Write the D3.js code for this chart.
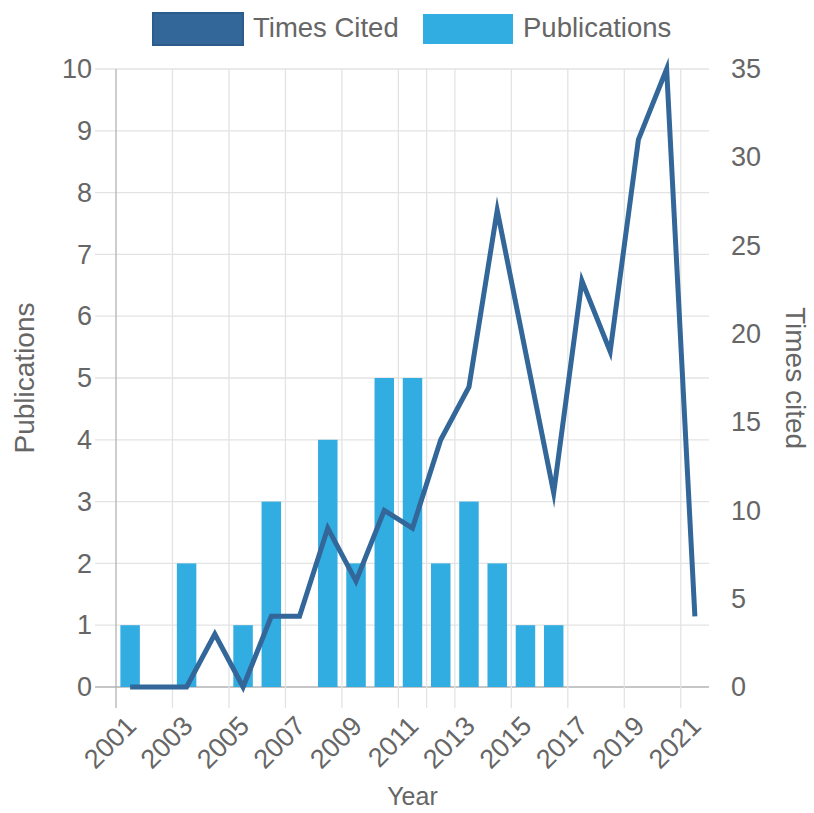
<!DOCTYPE html>
<html>
<head>
<meta charset="utf-8">
<script src="https://cdn.jsdelivr.net/npm/d3@7"></script>
<style>
  html, body { margin: 0; padding: 0; background: #fff; }
  svg { display: block; }
  text { font-family: "Liberation Sans", Arial, sans-serif; fill: #666; }
</style>
</head>
<body>
<div id="chart"></div>
<script>
const years = ["2001","2002","2003","2004","2005","2006","2007","2008","2009","2010","2011","2012","2013","2014","2015","2016","2017","2018","2019","2020","2021"];
const publications = [1,0,2,0,1,3,0,4,2,5,5,2,3,2,1,1,0,0,0,0,0];
const timesCited = [0,0,0,3,0,4,4,9,6,10,9,14,17,27,19,11,23,19,31,35,4];
const labelYears = ["2001","2003","2005","2007","2009","2011","2013","2015","2017","2019","2021"];
const gridYears = ["2001","2003","2005","2007","2009","2011","2012","2013","2015","2017","2019","2021"];
const leftTicks = [0,1,2,3,4,5,6,7,8,9,10];
const rightTicks = [0,5,10,15,20,25,30,35];
const seriesNames = ["Times Cited","Publications"];

const W = 814, H = 813;
const plot = {left: 116, right: 709, top: 69, bottom: 687};
const colLine = "#336699", colBar = "#32ade1";
const FONT = "Liberation Sans, Arial, sans-serif";

const svg = d3.select("#chart").append("svg").attr("width", W).attr("height", H);

const xCat = d3.scaleBand().domain(years).range([plot.left, plot.right]).padding(0);
const xBar = d3.scaleBand().domain(years).range([plot.left, plot.right]).paddingInner(0.31).paddingOuter(0.155);
const yL = d3.scaleLinear().domain([0, 10]).range([plot.bottom, plot.top]);
const yR = d3.scaleLinear().domain([0, 35]).range([plot.bottom, plot.top]);

// horizontal gridlines (left axis)
svg.append("g").selectAll("line").data(leftTicks).join("line")
  .attr("x1", plot.left - 21).attr("x2", plot.right)
  .attr("y1", d => yL(d)).attr("y2", d => yL(d))
  .attr("stroke", d => d === 0 ? "#b3b3b3" : "#e3e3e3").attr("stroke-width", 1.3);

// vertical gridlines at category edges
svg.append("g").selectAll("line").data(gridYears).join("line")
  .attr("x1", d => xCat(d)).attr("x2", d => xCat(d))
  .attr("y1", plot.top).attr("y2", plot.bottom + 21)
  .attr("stroke", (d, i) => i === 0 ? "#b3b3b3" : "#e3e3e3").attr("stroke-width", 1.3);

// bars
svg.append("g").selectAll("rect").data(years).join("rect")
  .attr("x", d => xBar(d)).attr("width", xBar.bandwidth())
  .attr("y", (d, i) => yL(publications[i]))
  .attr("height", (d, i) => yL(0) - yL(publications[i]))
  .attr("fill", colBar);

// line
const line = d3.line()
  .x((d, i) => xCat(years[i]) + xCat.bandwidth() / 2)
  .y(d => yR(d));
svg.append("path").datum(timesCited)
  .attr("d", line).attr("fill", "none")
  .attr("stroke", colLine).attr("stroke-width", 5).attr("stroke-linejoin", "miter").attr("stroke-miterlimit", 10);

// left axis labels
const gL = svg.append("g").attr("transform", `translate(${plot.left},0)`)
  .call(d3.axisLeft(yL).tickValues(leftTicks).tickSize(0).tickPadding(24).tickFormat(d3.format("d")));
gL.select(".domain").remove();
gL.selectAll("text").style("font-size", "27px").attr("fill", "#666").style("font-family", FONT);

// right axis labels
const gR = svg.append("g").attr("transform", `translate(${plot.right},0)`)
  .call(d3.axisRight(yR).tickValues(rightTicks).tickSize(0).tickPadding(22).tickFormat(d3.format("d")));
gR.select(".domain").remove();
gR.selectAll("text").style("font-size", "27px").attr("fill", "#666").style("font-family", FONT);

// bottom axis labels
const gB = svg.append("g").attr("transform", `translate(0,${plot.bottom})`)
  .call(d3.axisBottom(xCat).tickValues(labelYears).tickSize(0));
gB.select(".domain").remove();
gB.selectAll("text")
  .attr("x", 0).attr("y", 0).attr("dy", "0.35em")
  .attr("text-anchor", "end")
  .attr("transform", "translate(1,34) rotate(-45)")
  .style("font-size", "27px").attr("fill", "#666").style("font-family", FONT);

// axis titles
svg.append("text").attr("x", (plot.left + plot.right) / 2).attr("y", 805)
  .attr("text-anchor", "middle").style("font-size", "25px").text("Year");
svg.append("text").attr("transform", `translate(34,${(plot.top + plot.bottom) / 2}) rotate(-90)`)
  .attr("text-anchor", "middle").style("font-size", "28px").text("Publications");
svg.append("text").attr("transform", `translate(786,${(plot.top + plot.bottom) / 2}) rotate(90)`)
  .attr("text-anchor", "middle").style("font-size", "28px").text("Times cited");

// legend
const legend = svg.append("g");
legend.append("rect").attr("x", 153).attr("y", 13).attr("width", 90).attr("height", 32)
  .attr("fill", colLine).attr("stroke", "#2c5c8c").attr("stroke-width", 2);
legend.append("text").attr("x", 253).attr("y", 37).style("font-size", "27.5px").text(seriesNames[0]);
legend.append("rect").attr("x", 423).attr("y", 14).attr("width", 90).attr("height", 30)
  .attr("fill", colBar);
legend.append("text").attr("x", 523).attr("y", 37).style("font-size", "27.5px").text(seriesNames[1]);
</script>
</body>
</html>
